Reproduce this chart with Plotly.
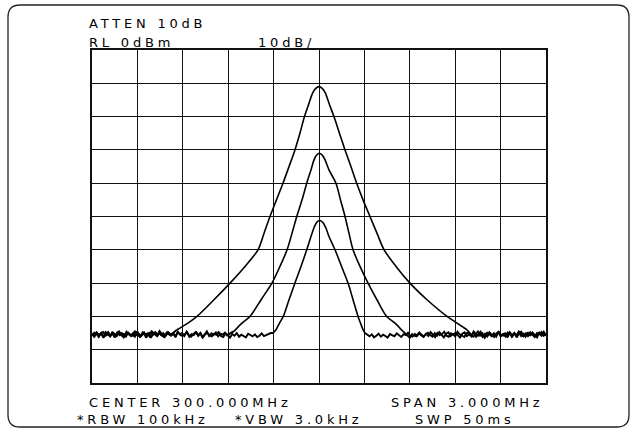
import numpy as np
import plotly.graph_objects as go

# spectrum analyzer settings (MHz / dBm)
center_mhz = 300.0
span_mhz = 3.0
ref_level = 0
db_per_div = 10

# signal part of each sweep: offset from center (MHz) and level (dBm)
a_offset = [-0.938, -0.866, -0.806, -0.694, -0.588, -0.489, -0.403, -0.363, -0.324, -0.281,
            -0.238, -0.198, -0.159, -0.126, -0.096, -0.066, -0.043, -0.023, 0.0, 0.023,
            0.043, 0.066, 0.099, 0.135, 0.172, 0.211, 0.249, 0.291, 0.337, 0.383,
            0.430, 0.509, 0.601, 0.714, 0.846, 0.912, 0.978]
a_level = [-84, -82, -80, -75, -70, -65, -60, -55, -50, -45,
           -40, -35, -30, -25, -20, -16, -13, -11.6, -11.0, -11.6,
           -13, -16, -20, -25, -30, -35, -40, -45, -50, -55,
           -60, -65, -70, -75, -80, -82, -84]

b_offset = [-0.562, -0.509, -0.456, -0.383, -0.311, -0.258, -0.211, -0.178, -0.147, -0.112,
            -0.081, -0.053, -0.033, -0.017, 0.0, 0.020, 0.040, 0.066, 0.112, 0.142,
            0.172, 0.198, 0.225, 0.271, 0.324, 0.383, 0.447, 0.502, 0.555]
b_level = [-84.5, -82, -80, -75, -70, -65, -60, -55, -50, -45,
           -40, -36, -33, -31.6, -31.0, -31.5, -33, -36, -40, -45,
           -50, -55, -60, -65, -70, -75, -80, -82, -84.5]

c_offset = [-0.304, -0.284, -0.261, -0.236, -0.198, -0.159, -0.119, -0.081, -0.053, -0.030,
            -0.013, 0.007, 0.026, 0.046, 0.066, 0.106, 0.149, 0.192, 0.225, 0.258,
            0.274, 0.291, 0.304]
c_level = [-85, -84, -82, -80, -75, -70, -65, -60, -56, -53,
           -51.6, -51.2, -51.8, -53.5, -56, -60, -65, -70, -75, -80,
           -82, -84, -85]

a_noise_left = [-85.2, -86.1, -84.9, -85.8, -85.0, -86.4, -85.3, -84.7, -85.9, -85.1,
                -86.2, -84.8, -85.6, -85.0, -86.0, -84.6, -85.4, -85.9, -84.9, -85.7,
                -85.2, -86.3, -84.8, -85.5, -85.1, -86.0, -84.5, -85.3, -85.8, -84.9,
                -85.6, -85.0, -85.9, -84.7, -85.4, -85.1, -84.6]
a_noise_right = [-85.0, -85.7, -84.8, -86.1, -85.3, -84.6, -85.9, -85.2, -86.0, -84.9,
                 -85.5, -86.2, -85.1, -84.7, -85.8, -85.3, -86.0, -84.8, -85.4, -85.9,
                 -85.0, -86.3, -85.2, -84.6, -85.7, -85.1, -85.9, -84.8, -85.6, -86.1,
                 -85.0, -85.4, -84.7, -85.8, -85.2]
b_noise_left = [-85.6, -84.9, -85.3, -86.2, -85.0, -84.7, -85.8, -85.4, -86.0, -84.8,
                -85.2, -85.9, -84.6, -85.5, -86.3, -85.1, -84.9, -85.7, -85.3, -86.1,
                -84.5, -85.4, -85.8, -85.0, -86.4, -85.2, -84.8, -85.6, -85.1, -85.9,
                -84.4, -85.3, -86.0, -85.5, -84.9, -85.8, -85.2, -86.2, -84.7, -85.4,
                -85.0, -85.9, -84.6, -85.6, -86.1, -85.3, -84.8, -85.7, -85.0, -86.3,
                -85.4, -84.5, -85.9, -85.1, -85.6, -84.8, -86.0, -85.2, -85.5, -84.9,
                -85.7, -85.1, -84.8]
b_noise_right = [-85.2, -85.9, -86.4, -85.3, -85.8, -86.0, -85.1, -85.7, -86.2, -85.4,
                 -84.9, -85.6, -86.1, -85.0, -85.8, -84.7, -85.5, -86.3, -85.2, -84.8,
                 -85.9, -85.3, -86.0, -84.6, -85.4, -85.7, -86.2, -85.0, -84.9, -85.6,
                 -86.1, -85.3, -84.5, -85.8, -85.1, -86.4, -85.5, -84.8, -85.9, -85.2,
                 -85.7, -84.6, -86.0, -85.4, -85.1, -85.8, -84.9, -86.2, -85.3, -85.6,
                 -84.7, -85.9, -85.2, -86.1, -85.0, -85.5, -84.8, -85.7, -86.3, -85.1,
                 -85.4, -84.6, -85.8]
c_noise_left = [-85.3, -86.0, -84.8, -85.6, -85.1, -86.2, -84.7, -85.4, -85.9, -85.0,
                -86.3, -85.2, -84.6, -85.7, -85.3, -86.1, -84.9, -85.5, -85.8, -84.5,
                -85.2, -86.0, -85.4, -84.8, -85.9, -85.1, -86.4, -85.3, -84.7, -85.6,
                -85.0, -85.8, -86.2, -84.9, -85.4, -85.7, -85.1, -86.0, -84.6, -85.5,
                -85.9, -85.2, -84.8, -86.1, -85.3, -85.6, -84.5, -85.8, -85.0, -86.3,
                -85.4, -84.9, -85.7, -86.0, -85.2, -85.5, -84.7, -85.9, -86.2, -85.1,
                -85.6, -86.4, -85.3, -85.8, -85.0, -86.1, -85.5, -85.9, -86.3, -85.2,
                -85.7, -86.0, -85.4, -86.2, -85.8, -85.1, -85.9, -85.6, -85.3, -85.0]
c_noise_right = [-85.6, -86.0, -85.4, -86.3, -85.8, -85.2, -86.1, -85.5, -85.9, -86.4,
                 -85.3, -85.7, -86.0, -85.1, -85.8, -86.2, -85.4, -85.6, -84.9, -85.9,
                 -86.1, -85.3, -85.7, -84.8, -85.5, -86.0, -85.2, -85.9, -84.7, -85.4,
                 -86.2, -85.0, -85.6, -85.3, -84.6, -85.8, -86.1, -85.1, -85.5, -84.9,
                 -85.7, -86.3, -85.2, -84.8, -85.9, -85.4, -86.0, -84.5, -85.3, -85.8,
                 -85.0, -86.2, -85.6, -84.9, -85.4, -85.9, -85.1, -86.1, -84.7, -85.5,
                 -85.8, -85.2, -86.3, -84.8, -85.6, -85.0, -85.9, -84.6, -85.4, -86.0,
                 -85.3, -84.9, -85.7, -85.1, -86.2, -85.5, -84.8, -85.8, -85.2, -85.6]

header_left = ["ATTEN 10dB", "RL 0dBm"]
header_scale = "10dB/"
footer_texts = ["CENTER 300.000MHz", "SPAN 3.000MHz", "*RBW 100kHz", "*VBW 3.0kHz", "SWP 50ms"]

f_lo = center_mhz - span_mhz / 2
f_hi = center_mhz + span_mhz / 2
step = 0.015

W, H = 632, 430
L, R, T, B = 92, 546, 50, 383  # plot area in pixels


def px(x):
    return (x - L) / (R - L)


def py(y):
    return (B - y) / (B - T)


fig = go.Figure()
noise_line = dict(color="black", width=1.9)

for off, lev, nl, nr in [(a_offset, a_level, a_noise_left, a_noise_right),
                         (b_offset, b_level, b_noise_left, b_noise_right),
                         (c_offset, c_level, c_noise_left, c_noise_right)]:
    sig_f = [center_mhz + o for o in off]
    fl = list(np.linspace(f_lo, sig_f[0] - step, len(nl)))
    fr = list(np.linspace(sig_f[-1] + step, f_hi, len(nr)))
    # noise left (joins first signal point), smooth signal, noise right
    fig.add_trace(go.Scatter(x=fl + sig_f[:1], y=nl + lev[:1], mode="lines",
                             line=noise_line, showlegend=False, hoverinfo="skip"))
    fig.add_trace(go.Scatter(x=sig_f, y=lev, mode="lines",
                             line=dict(color="black", width=1.6, shape="spline", smoothing=0.8),
                             showlegend=False, hoverinfo="skip"))
    fig.add_trace(go.Scatter(x=sig_f[-1:] + fr, y=lev[-1:] + nr, mode="lines",
                             line=noise_line, showlegend=False, hoverinfo="skip"))

axis_style = dict(showgrid=True, gridcolor="#111", gridwidth=1.3,
                  showline=True, linecolor="#111", linewidth=1.5, mirror=True,
                  zeroline=False, showticklabels=False, ticks="")
fig.update_xaxes(range=[f_lo, f_hi], dtick=span_mhz / 10, tick0=f_lo, **axis_style)
fig.update_yaxes(range=[ref_level - 10 * db_per_div, ref_level], dtick=db_per_div,
                 tick0=ref_level, **axis_style)

# rounded outer frame
x0, x1, y0, y1, r = 8, 629, 5, 427, 12
path = (f"M {px(x0 + r)},{py(y0)} L {px(x1 - r)},{py(y0)} Q {px(x1)},{py(y0)} {px(x1)},{py(y0 + r)} "
        f"L {px(x1)},{py(y1 - r)} Q {px(x1)},{py(y1)} {px(x1 - r)},{py(y1)} "
        f"L {px(x0 + r)},{py(y1)} Q {px(x0)},{py(y1)} {px(x0)},{py(y1 - r)} "
        f"L {px(x0)},{py(y0 + r)} Q {px(x0)},{py(y0)} {px(x0 + r)},{py(y0)} Z")
fig.add_shape(type="path", path=path, xref="paper", yref="paper",
              line=dict(color="#222", width=1.3))

font = dict(family="DejaVu Sans", size=13, color="black")


def label(text, x, y):
    fig.add_annotation(text=f'<span style="letter-spacing:3.8px">{text}</span>',
                       x=px(x), y=py(y), xref="paper", yref="paper",
                       xanchor="left", yanchor="middle", showarrow=False,
                       borderpad=0, font=font)


label(header_left[0], 88, 24)
label(header_left[1], 88, 42)
label(header_scale, 257, 42)
label(footer_texts[0], 88, 402)
label(footer_texts[1], 390, 402)
label(footer_texts[2], 76, 419)
label(footer_texts[3], 234, 419)
label(footer_texts[4], 414, 419)

fig.update_layout(width=W, height=H,
                  margin=dict(l=L, r=W - R, t=T, b=H - B),
                  paper_bgcolor="white", plot_bgcolor="white")

# drop the default page margin so the figure sits at the window's corner
fig.write_html("out.html", config={"displayModeBar": False},
               post_script="document.body.style.margin='0';")
